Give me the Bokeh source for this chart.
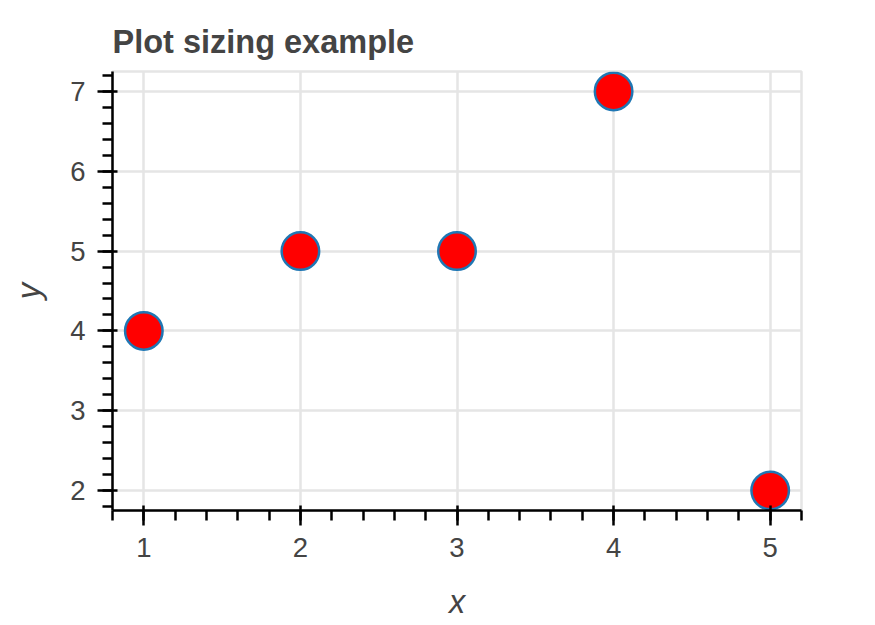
from bokeh.plotting import figure
from bokeh.embed import file_html
from bokeh.resources import INLINE

x = [1, 2, 3, 4, 5]
y = [4, 5, 5, 7, 2]

S = 2.5
FONT = "Liberation Sans"

p = figure(width=867, height=624, title="Plot sizing example",
           x_axis_label="x", y_axis_label="y",
           output_backend="svg", toolbar_location=None,
           min_border_left=112, min_border_right=66,
           min_border_top=71, min_border_bottom=114)

p.scatter(x, y, fill_color="red", size=15 * S, line_width=1 * S, line_color="#1f77b4")

p.title.text_font = FONT
p.title.text_font_size = f"{13*S}px"
p.title.text_color = "#444444"
p.title.text_font_style = "bold"
p.title.standoff = 23

for ax in (p.xaxis[0], p.yaxis[0]):
    ax.axis_label_text_font = FONT
    ax.axis_label_text_font_size = f"{13*S}px"
    ax.axis_label_text_color = "#444444"
    ax.major_label_text_font = FONT
    ax.major_label_text_font_size = f"{11*S}px"
    ax.major_label_text_color = "#444444"
    ax.axis_line_width = S
    ax.major_tick_line_width = S
    ax.minor_tick_line_width = S
    ax.major_tick_out = int(6 * S)
    ax.major_tick_in = int(2 * S)
    ax.minor_tick_out = int(4 * S)
    ax.major_label_standoff = int(5 * S)

p.xaxis[0].axis_label_standoff = 24
p.yaxis[0].axis_label_standoff = 20

p.xgrid.grid_line_width = S
p.ygrid.grid_line_width = S
p.outline_line_width = S

open("out.html", "w").write(file_html(p, INLINE))
